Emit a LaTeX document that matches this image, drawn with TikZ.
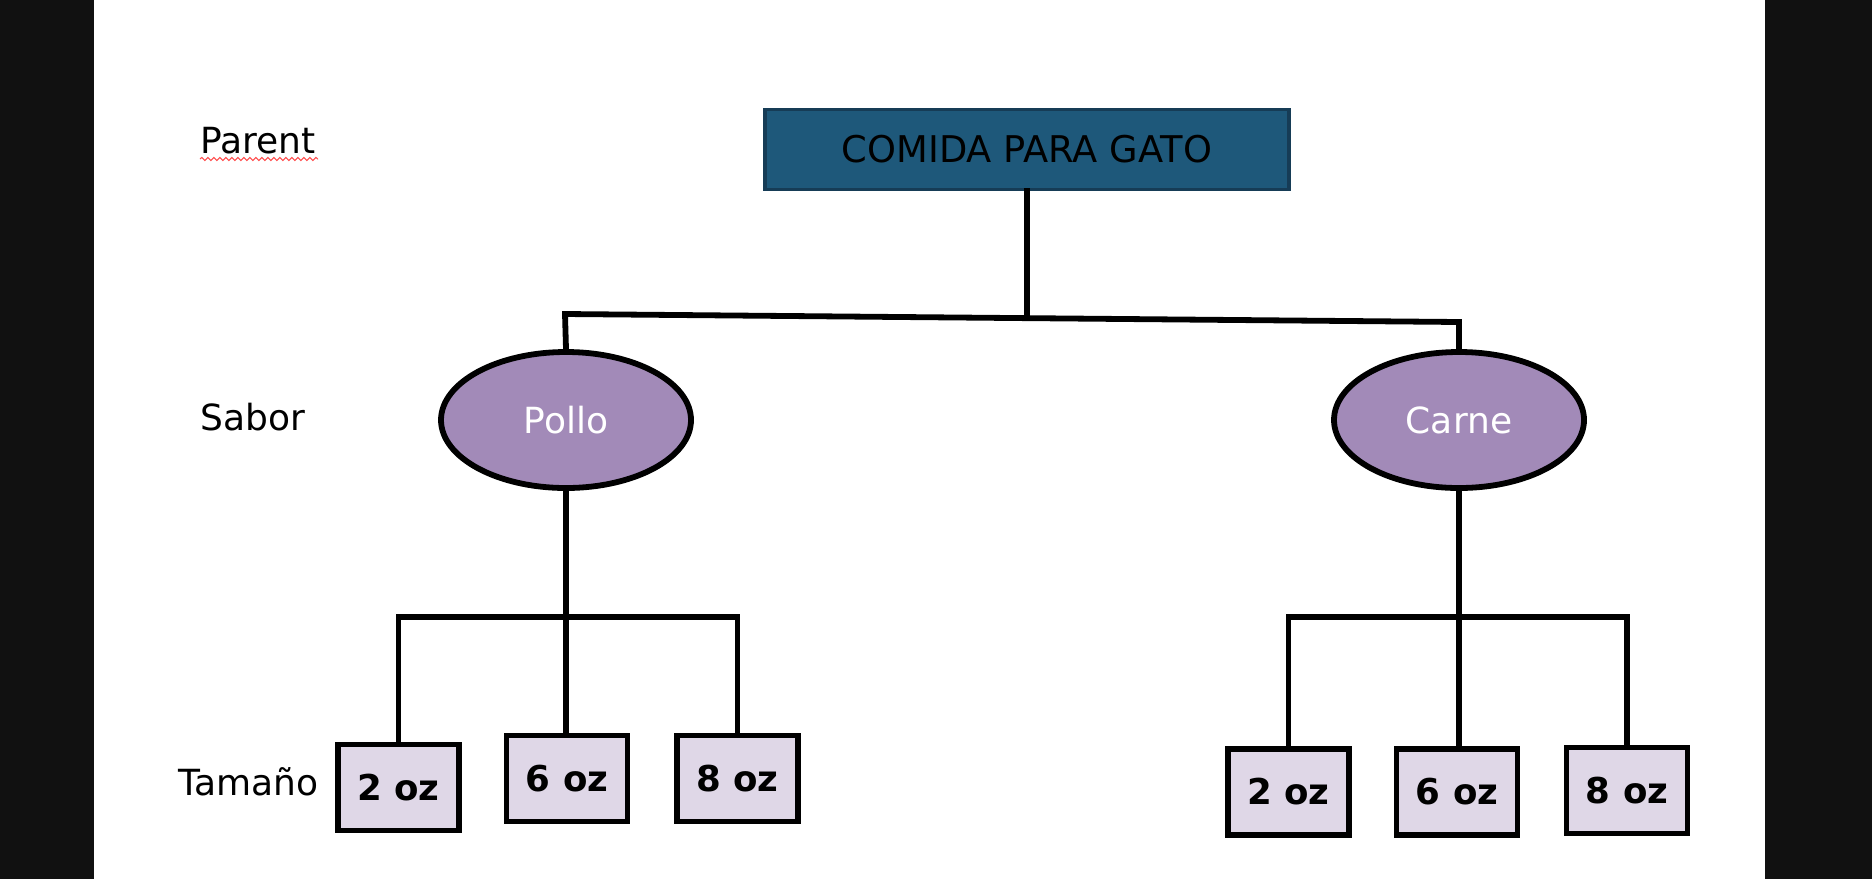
\documentclass[tikz,border=0pt]{standalone}
\usepackage{fontspec}
\setmainfont{DejaVu Sans}
\usetikzlibrary{shapes.geometric,decorations.pathmorphing}
\definecolor{sidebar}{HTML}{111111}
\definecolor{topfill}{HTML}{1E587A}
\definecolor{topdraw}{HTML}{163C56}
\definecolor{ellfill}{HTML}{A28AB8}
\definecolor{sizefill}{HTML}{DFD7E7}
\tikzset{
  conn/.style={draw=black, line width=2.9pt, line cap=rect},
  topbox/.style={draw=topdraw, fill=topfill, line width=1.8pt, minimum width=262pt, minimum height=40pt, inner sep=0pt, font=\fontsize{18.4}{21}\selectfont, text=black},
  flavour/.style={ellipse, draw=black, fill=ellfill, line width=2.9pt, minimum width=125pt, minimum height=68pt, inner sep=0pt, font=\fontsize{18}{21}\selectfont, text=white},
  sizebox/.style={draw=black, fill=sizefill, line width=2.9pt, minimum width=60.5pt, minimum height=43pt, inner sep=0pt, font=\bfseries\fontsize{17.8}{21}\selectfont, text=black},
  rowlabel/.style={anchor=base west, inner sep=0pt, font=\fontsize{18}{21}\selectfont, text=black}
}
\begin{document}
\begin{tikzpicture}[x=0.5pt, y=-0.5pt]
\useasboundingbox (0,0) rectangle (1872,879);
\fill[sidebar] (0,0) rectangle (94,879);
\fill[sidebar] (1765,0) rectangle (1872,879);
\fill[white] (94,0) rectangle (1765,879);

% row labels
\node[rowlabel] (lparent) at (200,153) {Parent};
\node[rowlabel] (lsabor) at (200,430) {Sabor};
\node[rowlabel] (ltamano) at (178,795) {Tamaño};
\draw[red!70, line width=0.5pt, decorate, decoration={snake, amplitude=0.8pt, segment length=3pt}] (200,159) -- (318,159);

% top
\node[topbox] (top) at (1027,149.5) {COMIDA PARA GATO};

% flavours
\node[flavour] (pollo) at (566,420) {Pollo};
\node[flavour] (carne) at (1459,420) {Carne};

% sizes
\node[sizebox] (p2) at (398.5,787.5) {2 oz};
\node[sizebox] (p6) at (567,778.5) {6 oz};
\node[sizebox] (p8) at (737.5,778.5) {8 oz};
\node[sizebox] (c2) at (1288.5,792) {2 oz};
\node[sizebox] (c6) at (1457,792) {6 oz};
\node[sizebox] (c8) at (1627,790.5) {8 oz};

% connectors level 1
\coordinate (hl) at (565,314);
\coordinate (hr) at (1459,322);
\coordinate (hm) at (1027,318);
\draw[conn] (top.south) -- (hm);
\draw[conn] (hl) -- (hr);
\draw[conn] (hl) -- (pollo.north);
\draw[conn] (hr) -- (carne.north);

% connectors level 2 (Pollo)
\coordinate (pbl) at (398.5,617);
\coordinate (pbr) at (737.5,617);
\draw[conn] (pollo.south) -- (pollo.south |- p6.north);
\draw[conn] (p2.north) -- (pbl) -- (pbr) -- (p8.north);

% connectors level 2 (Carne)
\coordinate (cbl) at (1288.5,617);
\coordinate (cbr) at (1627,617);
\draw[conn] (carne.south) -- (carne.south |- c6.north);
\draw[conn] (c2.north) -- (cbl) -- (cbr) -- (c8.north);
\end{tikzpicture}
\end{document}
